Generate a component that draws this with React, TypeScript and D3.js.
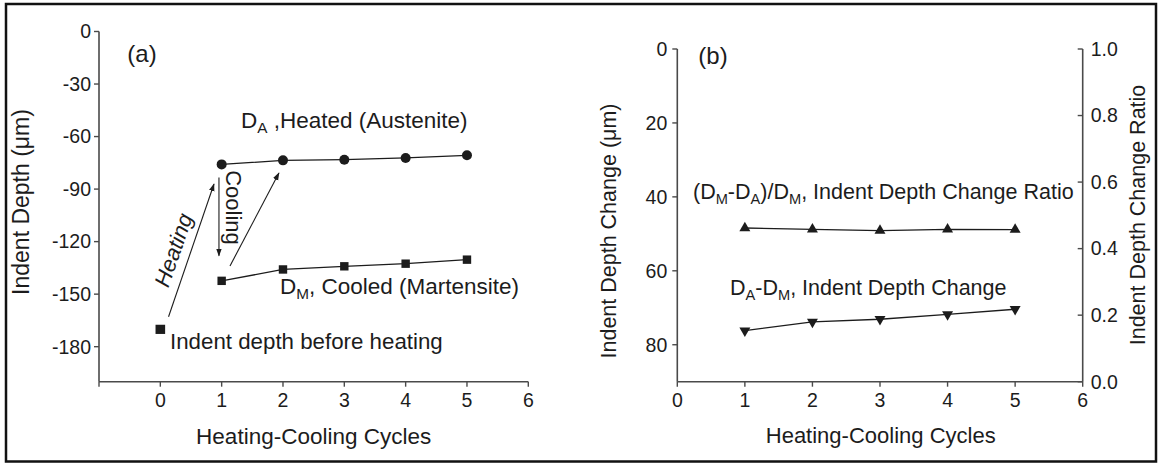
import React from "react";
import * as d3 from "d3";

// Cycle numbers and measured indent depths (µm)
const cycles = [1, 2, 3, 4, 5];
const heatedDepth = [-75.9, -73.6, -73.2, -72.2, -70.7];
const cooledDepth = [-142.4, -135.9, -134.1, -132.6, -130.3];
const initialCycle = [0];
const initialDepth = [-170.1];

// Derived quantities for panel (b)
const depthChange = [76.2, 73.8, 73.1, 71.8, 70.4];
const changeRatio = [0.462, 0.458, 0.454, 0.458, 0.457];

// Tick values
const depthTicksA = [0, -30, -60, -90, -120, -150, -180];
const cycleTicksA = [0, 1, 2, 3, 4, 5, 6];
const cycleTicksB = [0, 1, 2, 3, 4, 5, 6];
const changeTicks = [0, 20, 40, 60, 80];
const ratioTicks = [0, 0.2, 0.4, 0.6, 0.8, 1.0];

const FONT = "'Liberation Sans', Arial, Helvetica, sans-serif";
const INK = "#1c1c1c";
const AXIS = "#4a4a4a";

type LabelProps = {
  x: number;
  y: number;
  anchor?: "start" | "middle" | "end";
  size?: number;
  rotate?: number;
  italic?: boolean;
  dy?: string;
  children: React.ReactNode;
};

function Label({ x, y, anchor = "start", size = 21, rotate = 0, italic, dy, children }: LabelProps) {
  return (
    <text
      transform={`translate(${x},${y}) rotate(${rotate})`}
      textAnchor={anchor}
      fontSize={size}
      fontFamily={FONT}
      fontStyle={italic ? "italic" : "normal"}
      fill={INK}
      dy={dy}
    >
      {children}
    </text>
  );
}

// Text made of normal and subscript runs; each run is [text, isSubscript]
type Run = [string, boolean];
function RichLabel({ x, y, size, runs }: { x: number; y: number; size: number; runs: Run[] }) {
  const shift = 5;
  let level = 0;
  return (
    <text x={x} y={y} fontSize={size} fontFamily={FONT} fill={INK}>
      {runs.map(([t, sub], i) => {
        const target = sub ? shift : 0;
        const dy = target - level;
        level = target;
        return (
          <tspan key={i} dy={dy} fontSize={sub ? size * 0.68 : size}>
            {t}
          </tspan>
        );
      })}
    </text>
  );
}

export default function App() {
  // Panel (a) scales
  const xA = d3.scaleLinear().domain([-1, 6]).range([99, 528.3]);
  const yA = d3.scaleLinear().domain([-200, 0]).range([381.7, 31.5]);
  // Panel (b) scales
  const xB = d3.scaleLinear().domain([0, 6]).range([677.3, 1082.7]);
  const yB = d3.scaleLinear().domain([0, 90]).range([49, 381.7]);
  const yR = d3.scaleLinear().domain([0, 1]).range([381.7, 49]);

  const lineA = d3
    .line<number>()
    .x((_, i) => xA(cycles[i]))
    .y((d) => yA(d));
  const lineChange = d3
    .line<number>()
    .x((_, i) => xB(cycles[i]))
    .y((d) => yB(d));
  const lineRatio = d3
    .line<number>()
    .x((_, i) => xB(cycles[i]))
    .y((d) => yR(d));

  const triUp = d3.symbol().type(d3.symbolTriangle).size(52)()!;
  const tick = 5;

  return (
    <svg
      width={1160}
      height={463}
      style={{ position: "absolute", left: 0, top: 0, background: "#fff" }}
    >
      <defs>
        <marker
          id="head"
          viewBox="0 0 10 10"
          refX={9}
          refY={5}
          markerWidth={8}
          markerHeight={8}
          markerUnits="userSpaceOnUse"
          orient="auto"
        >
          <path d="M0,1.5 L10,5 L0,8.5 Z" fill={INK} />
        </marker>
      </defs>

      {/* outer frame */}
      <rect x={6} y={4} width={1150} height={457.5} fill="none" stroke="#111" strokeWidth={2.5} />

      {/* ---------------- Panel (a) ---------------- */}
      <g>
        <line x1={xA(-1)} x2={xA(-1)} y1={yA(0)} y2={yA(-200)} stroke={AXIS} strokeWidth={1.6} />
        <line x1={xA(-1)} x2={xA(6)} y1={yA(-200)} y2={yA(-200)} stroke={AXIS} strokeWidth={1.6} />
        {depthTicksA.map((t) => (
          <g key={t}>
            <line x1={xA(-1) - tick} x2={xA(-1)} y1={yA(t)} y2={yA(t)} stroke={AXIS} strokeWidth={1.4} />
            <Label x={xA(-1) - 8} y={yA(t)} anchor="end" size={19.5} dy="0.35em">
              {t}
            </Label>
          </g>
        ))}
        <line x1={xA(-1)} x2={xA(-1)} y1={yA(-200)} y2={yA(-200) + tick} stroke={AXIS} strokeWidth={1.4} />
        {cycleTicksA.map((t) => (
          <g key={t}>
            <line x1={xA(t)} x2={xA(t)} y1={yA(-200)} y2={yA(-200) + tick} stroke={AXIS} strokeWidth={1.4} />
            <Label x={xA(t)} y={407} anchor="middle" size={19.5}>
              {t}
            </Label>
          </g>
        ))}
        <Label x={(xA(-1) + xA(6)) / 2} y={444} anchor="middle" size={22.5}>
          Heating-Cooling Cycles
        </Label>
        <Label x={21} y={202} anchor="middle" size={23} rotate={-90} dy="0.35em">
          Indent Depth (μm)
        </Label>
        <Label x={142} y={62} anchor="middle" size={24}>
          (a)
        </Label>

        {/* data */}
        <path d={lineA(heatedDepth) ?? ""} fill="none" stroke={INK} strokeWidth={1.3} />
        <path d={lineA(cooledDepth) ?? ""} fill="none" stroke={INK} strokeWidth={1.3} />
        {heatedDepth.map((v, i) => (
          <circle key={i} cx={xA(cycles[i])} cy={yA(v)} r={5} fill={INK} />
        ))}
        {cooledDepth.map((v, i) => (
          <rect key={i} x={xA(cycles[i]) - 4.2} y={yA(v) - 4.2} width={8.4} height={8.4} fill={INK} />
        ))}
        {initialDepth.map((v, i) => (
          <rect key={i} x={xA(initialCycle[i]) - 4.8} y={yA(v) - 4.6} width={9.6} height={9.2} fill={INK} />
        ))}

        {/* process arrows */}
        <line x1={xA(0.134)} y1={yA(-162.9)} x2={xA(0.875)} y2={yA(-87.1)} stroke={INK} strokeWidth={1.1} markerEnd="url(#head)" />
        <line x1={xA(0.956)} y1={yA(-83.4)} x2={xA(0.956)} y2={yA(-128.1)} stroke={INK} strokeWidth={1.1} markerEnd="url(#head)" />
        <line x1={xA(1.136)} y1={yA(-133.9)} x2={xA(1.934)} y2={yA(-80.8)} stroke={INK} strokeWidth={1.1} markerEnd="url(#head)" />
        <Label x={xA(0.212)} y={yA(-124.8)} anchor="middle" size={22} rotate={-71} italic dy="0.35em">
          Heating
        </Label>
        <Label x={xA(1.2)} y={yA(-100.5)} anchor="middle" size={22} rotate={90} dy="0.35em">
          Cooling
        </Label>

        <RichLabel
          x={241}
          y={128}
          size={22.5}
          runs={[
            ["D", false],
            ["A", true],
            [" ,Heated (Austenite)", false],
          ]}
        />
        <RichLabel
          x={280}
          y={294}
          size={22.5}
          runs={[
            ["D", false],
            ["M", true],
            [", Cooled (Martensite)", false],
          ]}
        />
        <Label x={170} y={349} size={22.3}>
          Indent depth before heating
        </Label>
      </g>

      {/* ---------------- Panel (b) ---------------- */}
      <g>
        <line x1={xB(0)} x2={xB(0)} y1={yB(0)} y2={yB(90)} stroke={AXIS} strokeWidth={1.6} />
        <line x1={xB(6)} x2={xB(6)} y1={yR(1)} y2={yR(0)} stroke={AXIS} strokeWidth={1.6} />
        <line x1={xB(0)} x2={xB(6)} y1={yB(90)} y2={yB(90)} stroke={AXIS} strokeWidth={1.6} />
        {changeTicks.map((t) => (
          <g key={t}>
            <line x1={xB(0) - tick} x2={xB(0)} y1={yB(t)} y2={yB(t)} stroke={AXIS} strokeWidth={1.4} />
            <Label x={xB(0) - 10} y={yB(t)} anchor="end" size={19.5} dy="0.35em">
              {t}
            </Label>
          </g>
        ))}
        {ratioTicks.map((t) => (
          <g key={t}>
            <line x1={xB(6) - tick} x2={xB(6)} y1={yR(t)} y2={yR(t)} stroke={AXIS} strokeWidth={1.4} />
            <Label x={xB(6) + 8} y={yR(t)} anchor="start" size={19.5} dy="0.35em">
              {t.toFixed(1)}
            </Label>
          </g>
        ))}
        {cycleTicksB.map((t) => (
          <g key={t}>
            <line x1={xB(t)} x2={xB(t)} y1={yB(90)} y2={yB(90) + tick} stroke={AXIS} strokeWidth={1.4} />
            <Label x={xB(t)} y={407} anchor="middle" size={19.5}>
              {t}
            </Label>
          </g>
        ))}
        <Label x={880.7} y={443} anchor="middle" size={22}>
          Heating-Cooling Cycles
        </Label>
        <Label x={608} y={231} anchor="middle" size={21.5} rotate={-90} dy="0.35em">
          Indent Depth Change (μm)
        </Label>
        <Label x={1137} y={215} anchor="middle" size={21.5} rotate={-90} dy="0.35em">
          Indent Depth Change Ratio
        </Label>
        <Label x={713} y={64} anchor="middle" size={24}>
          (b)
        </Label>

        <path d={lineRatio(changeRatio) ?? ""} fill="none" stroke={INK} strokeWidth={1.3} />
        <path d={lineChange(depthChange) ?? ""} fill="none" stroke={INK} strokeWidth={1.3} />
        {changeRatio.map((v, i) => (
          <path key={i} d={triUp} transform={`translate(${xB(cycles[i])},${yR(v)})`} fill={INK} />
        ))}
        {depthChange.map((v, i) => (
          <path key={i} d={triUp} transform={`translate(${xB(cycles[i])},${yB(v)}) rotate(180)`} fill={INK} />
        ))}

        <RichLabel
          x={693}
          y={199}
          size={21.5}
          runs={[
            ["(D", false],
            ["M", true],
            ["-D", false],
            ["A", true],
            [")/D", false],
            ["M", true],
            [", Indent Depth Change Ratio", false],
          ]}
        />
        <RichLabel
          x={730}
          y={295}
          size={21.5}
          runs={[
            ["D", false],
            ["A", true],
            ["-D", false],
            ["M", true],
            [", Indent Depth Change", false],
          ]}
        />
      </g>
    </svg>
  );
}
